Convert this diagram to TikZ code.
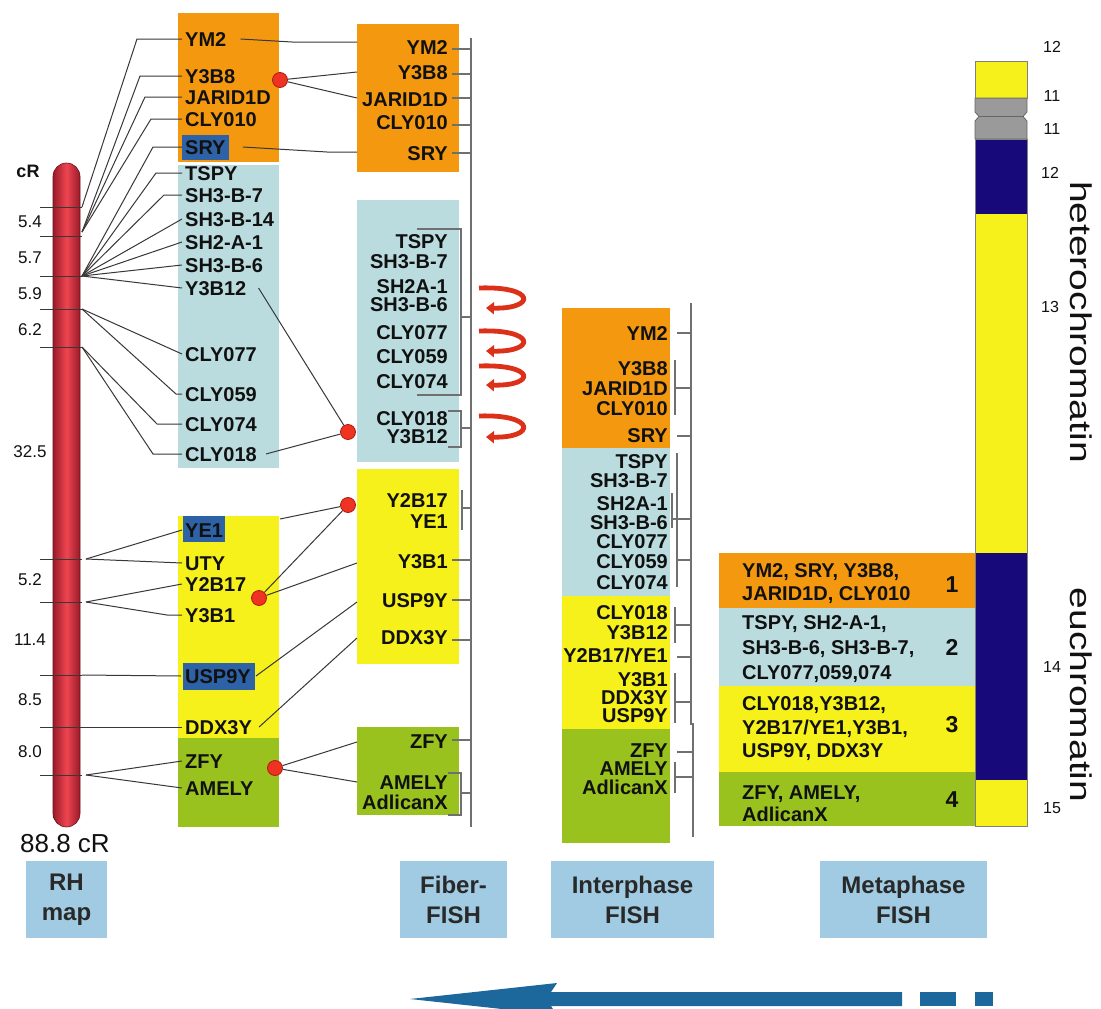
\documentclass[tikz,border=0pt]{standalone}
\usepackage{fontspec}
\setmainfont{Liberation Sans}
\usetikzlibrary{arrows.meta}
\definecolor{cOr}{HTML}{F4990F}
\definecolor{cLb}{HTML}{BADCDF}
\definecolor{cYe}{HTML}{F6F11A}
\definecolor{cGr}{HTML}{99C21F}
\definecolor{cHl}{HTML}{2E62A6}
\definecolor{cBx}{HTML}{A0CBE2}
\definecolor{cNv}{HTML}{18097A}
\definecolor{cGy}{HTML}{9A9A9A}
\definecolor{lnc}{HTML}{383838}
\definecolor{scc}{HTML}{707070}
\definecolor{txc}{HTML}{111111}
\definecolor{dotc}{HTML}{EE3322}
\definecolor{dotd}{HTML}{B01A10}
\definecolor{curlc}{HTML}{DD3018}
\definecolor{arrc}{HTML}{1C689C}
\definecolor{barc}{HTML}{EE4550}
\definecolor{bard}{HTML}{9A1A2A}
\newcommand{\myYY}{Y2B17/YE1}
\begin{document}
\begin{tikzpicture}[x=1pt,y=-1pt,
  conn/.style={draw=lnc, line width=1pt},
  scl/.style={draw=scc, line width=1.2pt},
  gl/.style={inner sep=0pt, text height=14pt, text depth=0pt, font=\fontsize{20}{20}\selectfont\bfseries, text=txc},
  gw/.style={gl, anchor=west},
  ge/.style={gl, anchor=east},
  num/.style={inner sep=0pt, font=\fontsize{17}{17}\selectfont, text=txc},
  bnum/.style={inner sep=0pt, font=\fontsize{16}{16}\selectfont, text=txc},
  rdot/.style={circle, fill=dotc, draw=dotd, line width=0.8pt, minimum size=15pt, inner sep=0pt},
  curl/.style={draw=curlc, line width=4.8pt, -{Triangle[length=8pt,width=12pt]}},
  bx/.style={fill=cBx, align=center, inner sep=0pt, font=\fontsize{24}{30}\selectfont\bfseries, text=txc!90!white},
  ]
\useasboundingbox (0,0) rectangle (1101,1009);
\fill[white] (0,0) rectangle (1101,1009);

% ---------- column boxes ----------
\fill[cOr] (178,13) rectangle (279,162);
\fill[cLb] (178,165) rectangle (279,468);
\fill[cYe] (178,516) rectangle (279,738);
\fill[cGr] (178,738) rectangle (279,827);

\fill[cOr] (357,24) rectangle (459,172);
\fill[cLb] (357,200) rectangle (459,462);
\fill[cYe] (357,469) rectangle (459,664);
\fill[cGr] (357,727) rectangle (459,815);

\fill[cOr] (562,308) rectangle (670,448);
\fill[cLb] (562,448) rectangle (670,596);
\fill[cYe] (562,596) rectangle (670,729);
\fill[cGr] (562,729) rectangle (670,843);

\fill[cOr] (719,553) rectangle (976,608);
\fill[cLb] (719,608) rectangle (976,686);
\fill[cYe] (719,686) rectangle (976,772);
\fill[cGr] (719,772) rectangle (976,826);

% ---------- ideogram ----------
\fill[cYe] (975,61) rectangle (1027,98);
\filldraw[fill=cGy, draw=gray!80!black, line width=0.8pt] (975,98) -- (1027,98) -- (1027,112) -- (1023,116.5) -- (1027,121) -- (1027,139) -- (975,139) -- (975,121) -- (979,116.5) -- (975,112) -- cycle;
\draw[black!60, line width=1.5pt] (979,116.5) -- (1023,116.5);
\fill[cNv] (975,139) rectangle (1027,214);
\fill[cYe] (975,214) rectangle (1027,553);
\fill[cNv] (975,553) rectangle (1027,780);
\fill[cYe] (975,780) rectangle (1027,826);
\draw[gray, line width=0.8pt] (975,61) rectangle (1027,98);
\draw[gray, line width=0.8pt] (975,139) rectangle (1027,826);

\node[bnum] (bn1) at (1052,47) {12};
\node[bnum] (bn2) at (1052,96) {11};
\node[bnum] (bn3) at (1052,129) {11};
\node[bnum] (bn4) at (1050,173) {12};
\node[bnum] (bn5) at (1050,307) {13};
\node[bnum] (bn6) at (1052,667) {14};
\node[bnum] (bn7) at (1052,808) {15};
\node[inner sep=0pt, rotate=-90, font=\fontsize{30}{30}\selectfont, text=txc] (het) at (1081,322) {\scalebox{1.3}[1]{heterochromatin}};
\node[inner sep=0pt, rotate=-90, font=\fontsize{30}{30}\selectfont, text=txc] (euc) at (1081,695) {\scalebox{1.3}[1]{euchromatin}};

% ---------- RH map bar ----------
\shade[left color=bard, right color=bard, middle color=barc, rounded corners=13.5pt] (53,163) rectangle (80,827);
\draw[bard!70!black, line width=0.6pt, rounded corners=13.5pt] (53,163) rectangle (80,827);
\foreach \y in {207,236,276,309,347,559,602,675,727,775}
  \draw[conn] (40,\y) -- (82,\y);
\node[inner sep=0pt, font=\fontsize{18}{18}\selectfont\bfseries, text=txc] (cr) at (28,171) {cR};
\foreach \t/\y [count=\i] in {5.4/222,5.7/258,5.9/294,6.2/330,32.5/452,5.2/580,11.4/640,8.5/700,8.0/752}
  \node[num] (rn\i) at (30,\y) {\t};
\node[inner sep=0pt, font=\fontsize{26}{26}\selectfont, text=txc] (tot) at (65,844) {88.8 cR};

% ---------- highlights ----------
\fill[cHl] (182,135) rectangle (229,160);
\fill[cHl] (183,516) rectangle (225,542);
\fill[cHl] (183,663) rectangle (255,690);

% ---------- left labels ----------
\foreach \t/\y/\n in {YM2/39/lYM, Y3B8/76/lYB8, JARID1D/97/lJAR, CLY010/119/lC10, SRY/147/lSRY,
  TSPY/173/lTSPY, SH3-B-7/195/lSH7, SH3-B-14/219/lSH14, SH2-A-1/242/lSH2, SH3-B-6/265/lSH6,
  Y3B12/288/lYB12, CLY077/354/lC77, CLY059/394/lC59, CLY074/424/lC74, CLY018/454/lC18,
  YE1/530/lYE1, UTY/563/lUTY, Y2B17/584/lY2B, Y3B1/615/lYB1, USP9Y/676/lUSP, DDX3Y/727/lDDX,
  ZFY/761/lZFY, AMELY/788/lAM}
  \node[gw] (\n) at (185,\y) {\t};

% ---------- fiber labels ----------
\foreach \t/\y [count=\i] in {YM2/47, Y3B8/72, JARID1D/99, CLY010/122, SRY/153, TSPY/241, SH3-B-7/261,
  SH2A-1/286, SH3-B-6/304, CLY077/332, CLY059/356, CLY074/381, CLY018/418, Y3B12/436, Y2B17/500,
  YE1/521, Y3B1/561, USP9Y/600, DDX3Y/637, ZFY/741, AMELY/782, AdlicanX/802}
  \node[ge] (fL\i) at (448,\y) {\t};

% ---------- interphase labels ----------
\foreach \t/\y [count=\i] in {YM2/333, Y3B8/368, JARID1D/388, CLY010/408, SRY/435, TSPY/461, SH3-B-7/480,
  SH2A-1/503, SH3-B-6/522, CLY077/541, CLY059/561, CLY074/582, CLY018/612, Y3B12/632, \myYY/655,
  Y3B1/679, DDX3Y/697, USP9Y/715, ZFY/750, AMELY/768, AdlicanX/787}
  \node[ge] (iL\i) at (668,\y) {\t};

% ---------- metaphase labels ----------
\node[gw] (m1) at (742,570) {YM2, SRY, Y3B8,};
\node[gw] (m2) at (742,593) {JARID1D, CLY010};
\node[gw] (m3) at (742,622) {TSPY, SH2-A-1,};
\node[gw] (m4) at (742,647) {SH3-B-6, SH3-B-7,};
\node[gw] (m5) at (742,672) {CLY077,059,074};
\node[gw] (m6) at (742,703) {CLY018,Y3B12,};
\node[gw] (m7) at (742,727) {Y2B17/YE1,Y3B1,};
\node[gw] (m8) at (742,750) {USP9Y, DDX3Y};
\node[gw] (m9) at (742,792) {ZFY, AMELY,};
\node[gw] (m10) at (742,814) {AdlicanX};
\foreach \t/\y [count=\i] in {1/585,2/647,3/725,4/800}
  \node[inner sep=0pt, font=\fontsize{23}{23}\selectfont\bfseries, text=txc] (n\i) at (952,\y) {\t};

% ---------- connectors: RH map to left column ----------
\coordinate (b1) at (82,207);
\coordinate (b2) at (82,232);
\coordinate (b3) at (82,276);
\coordinate (b4) at (82,309);
\coordinate (b5) at (82,347);
\coordinate (b6) at (86,559);
\coordinate (b7) at (86,602);
\coordinate (b8) at (86,775);
\coordinate (t9) at (82,675);
\coordinate (t10) at (82,727);
\draw[conn] ([xshift=-3pt]lYM.west) -- ++(-45,0) -- (b1);
\draw[conn] ([xshift=-3pt]lYB8.west) -- ++(-42,0) -- (b2);
\draw[conn] ([xshift=-3pt]lJAR.west) -- ++(-37,0) -- (b2);
\draw[conn] ([xshift=-3pt]lC10.west) -- ++(-31,0) -- (b2);
\draw[conn] ([xshift=-3pt]lSRY.west) -- ++(-29,0) -- (b3);
\draw[conn] ([xshift=-3pt]lTSPY.west) -- ++(-26,0) -- (b3);
\draw[conn] ([xshift=-3pt]lSH7.west) -- ++(-18,0) -- (b3);
\draw[conn] ([xshift=-3pt]lSH14.west) -- (b3);
\draw[conn] ([xshift=-3pt]lSH2.west) -- (b3);
\draw[conn] ([xshift=-3pt]lSH6.west) -- (b3);
\draw[conn] ([xshift=-3pt]lYB12.west) -- (b3);
\draw[conn] ([xshift=-3pt]lC77.west) -- (b4);
\draw[conn] ([xshift=-3pt]lC59.west) -- ++(-6,0) -- (b4);
\draw[conn] ([xshift=-3pt]lC74.west) -- ++(-25,0) -- (b5);
\draw[conn] ([xshift=-3pt]lC18.west) -- ++(-29,0) -- (b5);
\draw[conn] ([xshift=-3pt]lYE1.west) -- (b6);
\draw[conn] ([xshift=-3pt]lUTY.west) -- (b6);
\draw[conn] ([xshift=-3pt]lY2B.west) -- (b7);
\draw[conn] ([xshift=-3pt]lYB1.west) -- ++(-15,0) -- (b7);
\draw[conn] ([xshift=-4pt]lUSP.west) -- (t9);
\draw[conn] ([xshift=-3pt]lDDX.west) -- (t10);
\draw[conn] ([xshift=-3pt]lZFY.west) -- (b8);
\draw[conn] ([xshift=-3pt]lAM.west) -- (b8);

% ---------- connectors: left column to fiber ----------
\coordinate (fYM) at (357,42);
\coordinate (fYB8) at (357,72);
\coordinate (fJAR) at (357,98);
\coordinate (fSRY) at (357,152);
\coordinate (fYB1) at (357,563);
\coordinate (fUSP) at (357,602);
\coordinate (fDDX) at (357,638);
\coordinate (fZFY) at (357,742);
\coordinate (fAM) at (357,782);
\coordinate (yeR) at (280,519);
\node[rdot] (d1) at (280,80) {};
\node[rdot] (d2) at (348,432) {};
\node[rdot] (d3) at (348,505) {};
\node[rdot] (d4) at (259,598) {};
\node[rdot] (d5) at (275,768) {};
\draw[conn] ([xshift=14pt]lYM.east) -- (292,42) -- (fYM);
\draw[conn] ([xshift=17pt]lSRY.east) -- (327,152) -- (fSRY);
\draw[conn] (d1) -- (fYB8);
\draw[conn] (d1) -- (fJAR);
\draw[conn] ([xshift=12pt]lYB12.east) -- (d2);
\draw[conn] ([xshift=9pt]lC18.east) -- (d2);
\draw[conn] (yeR) -- (d3);
\draw[conn] (d4) -- (d3);
\draw[conn] (d4) -- (fYB1);
\draw[conn] ([xshift=5pt]lUSP.east) -- (fUSP);
\draw[conn] ([xshift=7pt]lDDX.east) -- (fDDX);
\draw[conn] (d5) -- (fZFY);
\draw[conn] (d5) -- (fAM);

% ---------- fiber scale ----------
\draw[scl] (471,38) -- (471,827);
\foreach \y in {49,74,98,125,153,560,600,640,740}
  \draw[scl] (452,\y) -- (471,\y);
\draw[scl] (417,229) -- (461,229) -- (461,395) -- (417,395);
\draw[scl] (461,317) -- (471,317);
\draw[scl] (448,411) -- (461,411) -- (461,447) -- (448,447);
\draw[scl] (461,428) -- (471,428);
\draw[scl] (462,490) -- (462,530);
\draw[scl] (462,508) -- (471,508);
\draw[scl] (448,773) -- (461,773) -- (461,815) -- (448,815);
\draw[scl] (461,793) -- (471,793);

% ---------- curly arrows ----------
\foreach \a/\b [count=\i] in {288/308, 331/351, 366/385, 416/437}
  \draw[curl] (479,\a) .. controls (536,\a-2) and (536,\b+1) .. (486,\b);

% ---------- interphase scale ----------
\draw[scl] (691,303) -- (691,725);
\draw[scl] (693,723) -- (693,837);
\draw[scl] (677,333) -- (691,333);
\draw[scl] (675,360) -- (675,415);
\draw[scl] (675,388) -- (691,388);
\draw[scl] (677,436) -- (691,436);
\draw[scl] (677,453) -- (677,587);
\draw[scl] (672,493) -- (672,528);
\draw[scl] (672,519) -- (691,519);
\draw[scl] (677,560) -- (691,560);
\draw[scl] (675,607) -- (675,643);
\draw[scl] (675,625) -- (691,625);
\draw[scl] (677,657) -- (691,657);
\draw[scl] (675,673) -- (675,723);
\draw[scl] (675,702) -- (691,702);
\draw[scl] (677,752) -- (693,752);
\draw[scl] (675,762) -- (675,793);
\draw[scl] (675,777) -- (693,777);

% ---------- bottom boxes ----------
\node[bx, minimum width=81pt, minimum height=77pt] (bRH) at (66.5,899.5) {RH\\map};
\node[bx, minimum width=107pt, minimum height=77pt] (bFi) at (453.5,899.5) {Fiber-\\FISH};
\node[bx, minimum width=163pt, minimum height=77pt] (bIn) at (632.5,899.5) {Interphase\\FISH};
\node[bx, minimum width=167pt, minimum height=77pt] (bMe) at (903.5,899.5) {Metaphase\\FISH};

% ---------- bottom arrow ----------
\fill[arrc] (410,999) -- (557,983) -- (551,992) -- (902,992) -- (902,1006) -- (551,1006) -- (557,1015) -- cycle;
\fill[arrc] (920,992) rectangle (956,1006);
\fill[arrc] (975,992) rectangle (993,1006);
\end{tikzpicture}
\end{document}
